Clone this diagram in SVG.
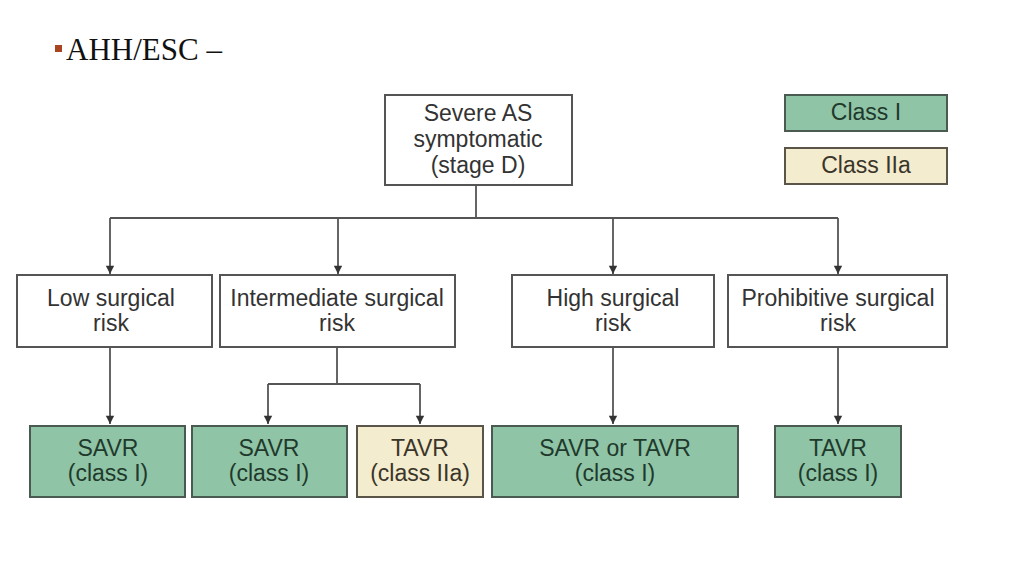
<svg xmlns="http://www.w3.org/2000/svg" width="1024" height="576" viewBox="0 0 1024 576">
<style>
.box{fill:#fff;stroke:#555;stroke-width:2}
.g{fill:#8fc4a6;stroke:#4a5a50;stroke-width:2}
.y{fill:#f4ecce;stroke:#5a5548;stroke-width:2}
text{font-family:"Liberation Sans",Arial,sans-serif;font-size:23px;text-anchor:middle;dominant-baseline:central}
.t{fill:#333}
.tg{fill:#1f3a2c}
.ty{fill:#3a352a}
.c{fill:none;stroke:#555;stroke-width:1.8}
</style>
<defs>
<marker id="ah" viewBox="0 0 10 12" refX="10" refY="6" markerWidth="12" markerHeight="10" markerUnits="userSpaceOnUse" orient="auto">
<path d="M0,1 L10,6 L0,11 Z" fill="#333"/>
</marker>
</defs>
<rect width="1024" height="576" fill="#fff"/>
<g id="title">
<rect x="55" y="45" width="7" height="7" fill="#a8451f"/>
<text x="66" y="49" style="font-family:'Liberation Serif','Times New Roman',serif;font-size:31px;text-anchor:start" fill="#111">AHH/ESC –</text>
</g>
<g id="connectors">
<path class="c" d="M476,185 V218 M110,218 H838"/>
<path class="c" d="M110,218 V274" marker-end="url(#ah)"/>
<path class="c" d="M338,218 V274" marker-end="url(#ah)"/>
<path class="c" d="M613,218 V274" marker-end="url(#ah)"/>
<path class="c" d="M838,218 V274" marker-end="url(#ah)"/>
<path class="c" d="M110,347 V424" marker-end="url(#ah)"/>
<path class="c" d="M337,347 V384 M268,384 H420"/>
<path class="c" d="M268,384 V424" marker-end="url(#ah)"/>
<path class="c" d="M420,384 V424" marker-end="url(#ah)"/>
<path class="c" d="M613,347 V424" marker-end="url(#ah)"/>
<path class="c" d="M838,347 V424" marker-end="url(#ah)"/>
</g>
<g id="root">
<rect class="box" x="385" y="95" width="187" height="90"/>
<text class="t" x="478" y="113">Severe AS</text>
<text class="t" x="478" y="139">symptomatic</text>
<text class="t" x="478" y="165">(stage D)</text>
</g>
<g id="legend-class1">
<rect class="g" x="785" y="95" width="162" height="36"/>
<text class="tg" x="866" y="112">Class I</text>
</g>
<g id="legend-class2a">
<rect class="y" x="785" y="148" width="162" height="36"/>
<text class="ty" x="866" y="165">Class IIa</text>
</g>
<g id="low">
<rect class="box" x="17" y="275" width="195" height="72"/>
<text class="t" x="111" y="298">Low surgical</text>
<text class="t" x="111" y="323">risk</text>
</g>
<g id="intermediate">
<rect class="box" x="220" y="275" width="235" height="72"/>
<text class="t" x="337" y="298">Intermediate surgical</text>
<text class="t" x="337" y="323">risk</text>
</g>
<g id="high">
<rect class="box" x="512" y="275" width="202" height="72"/>
<text class="t" x="613" y="298">High surgical</text>
<text class="t" x="613" y="323">risk</text>
</g>
<g id="prohibitive">
<rect class="box" x="728" y="275" width="219" height="72"/>
<text class="t" x="838" y="298">Prohibitive surgical</text>
<text class="t" x="838" y="323">risk</text>
</g>
<g id="savr-low">
<rect class="g" x="30" y="426" width="155" height="71"/>
<text class="tg" x="108" y="448">SAVR</text>
<text class="tg" x="108" y="473">(class I)</text>
</g>
<g id="savr-int">
<rect class="g" x="192" y="426" width="155" height="71"/>
<text class="tg" x="269" y="448">SAVR</text>
<text class="tg" x="269" y="473">(class I)</text>
</g>
<g id="tavr-int">
<rect class="y" x="357" y="426" width="126" height="71"/>
<text class="ty" x="420" y="448">TAVR</text>
<text class="ty" x="420" y="473">(class IIa)</text>
</g>
<g id="savr-tavr-high">
<rect class="g" x="492" y="426" width="246" height="71"/>
<text class="tg" x="615" y="448">SAVR or TAVR</text>
<text class="tg" x="615" y="473">(class I)</text>
</g>
<g id="tavr-prohibitive">
<rect class="g" x="775" y="426" width="126" height="71"/>
<text class="tg" x="838" y="448">TAVR</text>
<text class="tg" x="838" y="473">(class I)</text>
</g>
</svg>
